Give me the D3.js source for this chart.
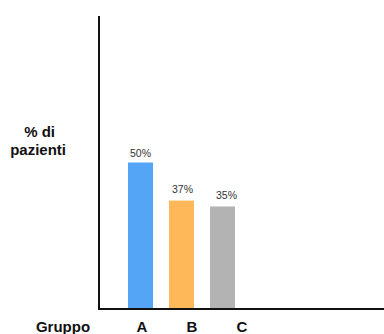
<!DOCTYPE html>
<html>
<head>
<meta charset="utf-8">
<script src="https://cdn.jsdelivr.net/npm/d3@7"></script>
<style>
  html, body { margin: 0; padding: 0; background: #fff; }
  svg { display: block; }
</style>
</head>
<body>
<svg id="chart" width="384" height="334"></svg>
<script>
// Percentage of patients per group
const groups = ["A", "B", "C"];
const values = [50, 37, 35];
const colors = ["#55a5f7", "#ffb859", "#b3b3b3"];
const valueLabels = ["50%", "37%", "35%"];
const yLabelLines = ["% di", "pazienti"];
const xTitle = "Gruppo";

const svg = d3.select("#chart");
const font = "Arial, 'Liberation Sans', sans-serif";

const y = d3.scaleLinear().domain([0, 100]).range([309, 16]);
const x = d3.scaleBand().domain(groups).range([128, 235]).paddingInner(0.39).paddingOuter(0);
// group names sit on their own evenly spaced positions along the baseline
const xLab = d3.scalePoint().domain(groups).range([142, 242]);

// bars
svg.selectAll("rect.bar")
  .data(groups)
  .join("rect")
  .attr("class", "bar")
  .attr("x", d => x(d))
  .attr("width", x.bandwidth())
  .attr("y", (d, i) => y(values[i]))
  .attr("height", (d, i) => y(0) - y(values[i]))
  .attr("fill", (d, i) => colors[i]);

// value labels above the bars
const labelDx = [0, 1, 4];
const labelGap = [6, 8, 7];
svg.selectAll("text.val")
  .data(groups)
  .join("text")
  .attr("class", "val")
  .attr("x", (d, i) => x(d) + x.bandwidth() / 2 + labelDx[i])
  .attr("y", (d, i) => y(values[i]) - labelGap[i])
  .attr("text-anchor", "middle")
  .attr("font-family", font)
  .attr("font-size", 10.5)
  .attr("fill", "#333")
  .text((d, i) => valueLabels[i]);

// axis lines
svg.append("line")
  .attr("x1", 99).attr("x2", 99)
  .attr("y1", y(100)).attr("y2", y(0))
  .attr("stroke", "#111").attr("stroke-width", 2);
svg.append("line")
  .attr("x1", 98).attr("x2", 384)
  .attr("y1", y(0)).attr("y2", y(0))
  .attr("stroke", "#111").attr("stroke-width", 2);

// group names
svg.selectAll("text.cat")
  .data(groups)
  .join("text")
  .attr("class", "cat")
  .attr("x", d => xLab(d))
  .attr("y", 332)
  .attr("text-anchor", "middle")
  .attr("font-family", font)
  .attr("font-weight", "bold")
  .attr("font-size", 15)
  .attr("fill", "#111")
  .text(d => d);

// x title
svg.append("text")
  .attr("x", 63).attr("y", 332)
  .attr("text-anchor", "middle")
  .attr("font-family", font)
  .attr("font-weight", "bold")
  .attr("font-size", 15)
  .attr("fill", "#111")
  .text(xTitle);

// y title, two lines
const yTitleRight = [55, 66];
const yt = svg.append("text")
  .attr("text-anchor", "end")
  .attr("font-family", font)
  .attr("font-weight", "bold")
  .attr("font-size", 15)
  .attr("fill", "#111");
yt.selectAll("tspan")
  .data(yLabelLines)
  .join("tspan")
  .attr("x", (d, i) => yTitleRight[i])
  .attr("y", (d, i) => 137 + i * 18)
  .text(d => d);
</script>
</body>
</html>
